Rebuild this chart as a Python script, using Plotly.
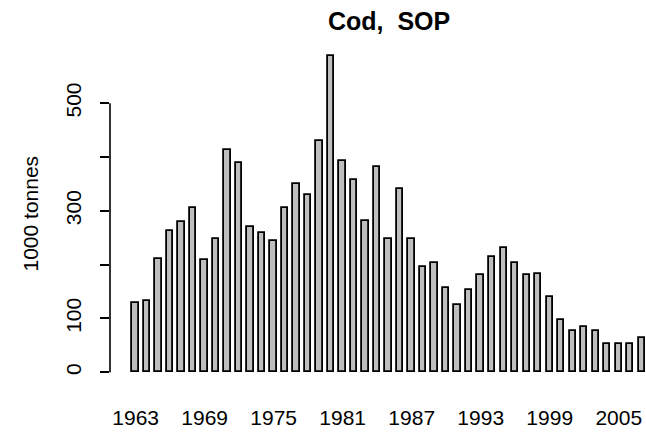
import plotly.graph_objects as go

years = list(range(1963, 2008))
catch = [128, 132, 211, 263, 279, 306, 208, 247, 413, 389, 270, 259, 243, 305,
         349, 330, 429, 587, 393, 357, 282, 382, 247, 341, 247, 195, 203, 156,
         125, 152, 180, 214, 230, 203, 180, 183, 140, 97, 77, 85, 77, 53, 53,
         53, 64]
x_labels = [1963, 1969, 1975, 1981, 1987, 1993, 1999, 2005]
y_ticks = [0, 100, 200, 300, 400, 500]
y_ticktext = ["0", "100", "", "300", "", "500"]

FONT = "Liberation Sans, Arial, Helvetica, sans-serif"

fig = go.Figure()
fig.add_trace(go.Bar(
    x=years, y=catch, width=0.56,
    marker=dict(color="#BEBEBE", line=dict(color="black", width=1.8)),
))

fig.update_layout(
    width=646, height=432,
    margin=dict(l=110, r=0, t=42, b=47),
    paper_bgcolor="white", plot_bgcolor="white",
    showlegend=False,
    font=dict(family=FONT, size=21, color="black"),
    bargap=0,
)
fig.update_xaxes(
    range=[1960.77, 2007.37],
    tickmode="array", tickvals=x_labels, ticktext=[str(v) for v in x_labels],
    ticks="", showline=False, showgrid=False, zeroline=False,
    ticklabelstandoff=18, automargin=False,
    tickfont=dict(family=FONT, size=21),
)
fig.update_yaxes(
    range=[-23.6, 613.6],
    tickmode="array", tickvals=y_ticks, ticktext=y_ticktext,
    tickangle=-90, ticks="outside", ticklen=9, tickwidth=1.6, tickcolor="black",
    showline=False, showgrid=False, zeroline=False,
    ticklabelstandoff=11, automargin=False,
    tickfont=dict(family=FONT, size=21),
)
fig.add_shape(type="line", xref="paper", yref="y", x0=0, x1=0, y0=0, y1=500,
              line=dict(color="black", width=1.6))
fig.add_annotation(text="1000 tonnes", xref="paper", yref="paper", x=0, y=0.5,
                   xshift=-80, textangle=-90, showarrow=False,
                   xanchor="center", yanchor="middle",
                   font=dict(family=FONT, size=21))
fig.add_annotation(text="<b>Cod,  SOP</b>", xref="paper", yref="paper",
                   x=(389 - 110) / 536, y=(385 - 21) / 343, showarrow=False,
                   xanchor="center", yanchor="middle",
                   font=dict(family=FONT, size=25))

fig.write_html("out.html")
